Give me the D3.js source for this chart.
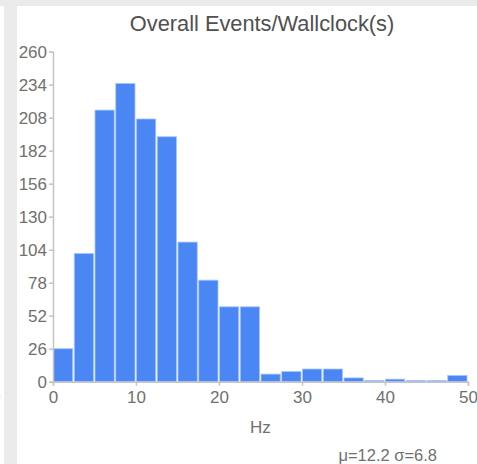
<!DOCTYPE html>
<html><head><meta charset="utf-8">
<script src="https://cdn.jsdelivr.net/npm/d3@7"></script>
<style>html,body{margin:0;padding:0;background:#fff;}svg{display:block;font-family:"Liberation Sans",Arial,Helvetica,sans-serif;}</style>
</head><body>
<script>
const binStarts = [0,2.5,5,7.5,10,12.5,15,17.5,20,22.5,25,27.5,30,32.5,35,37.5,40,42.5,45,47.5];
const binWidth = 2.5;
const counts = [26,101,214,235,207,193,110,80,59,59,6,8,10,10,3,1,2,1,1,5];
const yTicks = [0,26,52,78,104,130,156,182,208,234,260];
const xTicks = [0,10,20,30,40,50];
const title = "Overall Events/Wallclock(s)";
const xLabel = "Hz";
const stats = "μ=12.2 σ=6.8";

const W = 477, H = 464;
const svg = d3.select("body").append("svg").attr("width", W).attr("height", H);

// background frame
svg.append("rect").attr("x",0).attr("y",0).attr("width",W).attr("height",H).attr("fill","#fff");
svg.append("text").attr("x",-9).attr("y",403).attr("text-anchor","middle")
  .attr("font-size",17).attr("fill","#777").text("50");
svg.append("rect").attr("x",0).attr("y",0).attr("width",W).attr("height",6).attr("fill","#ebebeb");
svg.append("rect").attr("x",4).attr("y",0).attr("width",13).attr("height",H).attr("fill","#ebebeb");

const x = d3.scaleLinear().domain([0,50]).range([53,468]);
const y = d3.scaleLinear().domain([0,260]).range([381.7,51.7]);

// bars
svg.append("g").selectAll("rect").data(counts).join("rect")
  .attr("x",(d,i)=>x(binStarts[i])+0.5)
  .attr("y",d=>y(d))
  .attr("width",(d,i)=>x(binStarts[i]+binWidth)-x(binStarts[i])-1.5)
  .attr("height",d=>y(0)-y(d))
  .attr("fill","#4a87f5")
  .attr("stroke","#a9c6fb")
  .attr("stroke-width",0.8);

// axes
const yAxis = svg.append("g").attr("transform",`translate(${x(0)},0)`)
  .call(d3.axisLeft(y).tickValues(yTicks).tickSize(4).tickPadding(2));
const xAxis = svg.append("g").attr("transform",`translate(0,${y(0)})`)
  .call(d3.axisBottom(x).tickValues(xTicks).tickSize(4).tickPadding(5));
[yAxis,xAxis].forEach(a=>{
  a.selectAll("path").attr("stroke","#c4c4c4").attr("stroke-width",1.5);
  a.selectAll("line").attr("stroke","#c4c4c4").attr("stroke-width",1.5);
  a.selectAll("text").attr("fill","#707070").attr("font-size",17)
   .attr("font-family","'Liberation Sans',Arial,sans-serif");
});

svg.append("text").attr("x",262).attr("y",31).attr("text-anchor","middle")
  .attr("font-size",21.8).attr("fill","#505050").text(title);
svg.append("text").attr("x",250).attr("y",433).attr("font-size",17).attr("fill","#707070").text(xLabel);
svg.append("text").attr("x",437).attr("y",461).attr("text-anchor","end").attr("font-size",16.5).attr("fill","#707070").text(stats);
</script>
</body></html>
